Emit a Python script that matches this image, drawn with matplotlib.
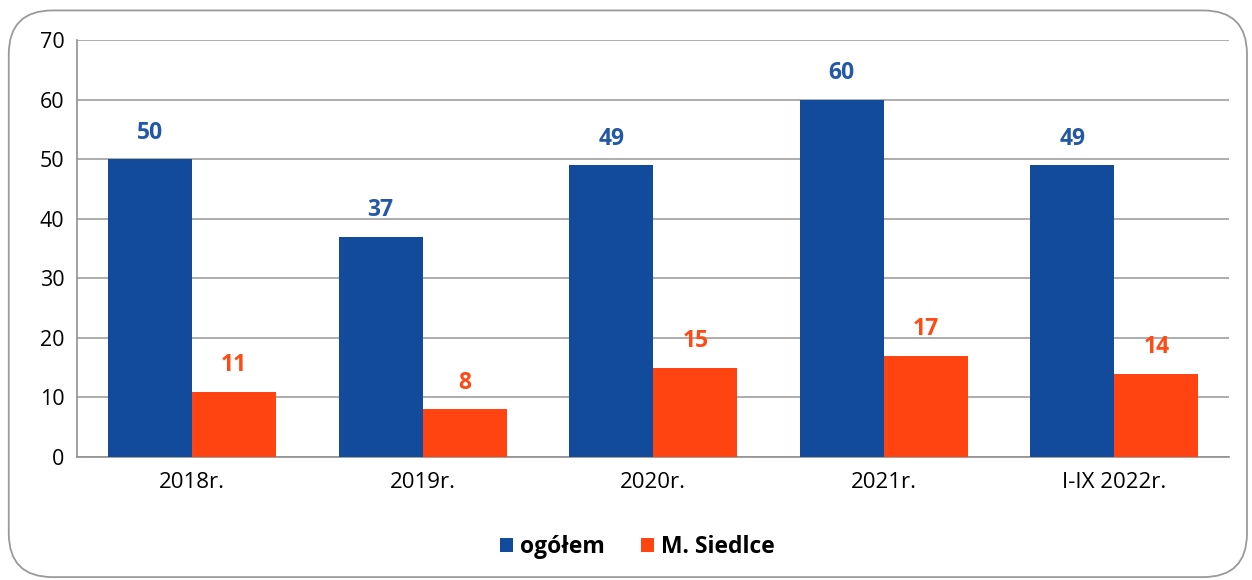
import matplotlib
matplotlib.use("Agg")
import matplotlib.pyplot as plt
import numpy as np
from matplotlib.patches import FancyBboxPatch

categories = ["2018r.", "2019r.", "2020r.", "2021r.", "I-IX 2022r."]
ogolem = [50, 37, 49, 60, 49]
siedlce = [11, 8, 15, 17, 14]
series_names = ["ogółem", "M. Siedlce"]
yticks = [0, 10, 20, 30, 40, 50, 60, 70]

plt.rcParams['font.family'] = ['Open Sans', 'DejaVu Sans']

fig = plt.figure(figsize=(12.52, 5.8), dpi=100)
frame = FancyBboxPatch((0.007, 0.005), 0.989, 0.977, boxstyle="round,pad=0,rounding_size=0.035",
                       transform=fig.transFigure, facecolor="none", edgecolor="#9a9a9a",
                       linewidth=1.3, mutation_aspect=1252/580, zorder=-1)
fig.patches.append(frame)

ax = fig.add_axes([0.0615, 0.212, 0.9205, 0.719])
x = np.arange(len(categories))
w = 0.365
blue = "#124b9c"
orange = "#ff4412"
b1 = ax.bar(x - w/2, ogolem, w, color=blue, label=series_names[0], zorder=3)
b2 = ax.bar(x + w/2, siedlce, w, color=orange, label=series_names[1], zorder=3)

for xi, v in zip(x - w/2, ogolem):
    ax.text(xi, v + 2.4, str(v), ha="center", va="bottom", color="#2358a8",
            fontsize=16.5, fontweight="bold")
for xi, v in zip(x + w/2, siedlce):
    ax.text(xi, v + 2.4, str(v), ha="center", va="bottom", color="#ff4a14",
            fontsize=16.5, fontweight="bold")

ax.set_xlim(-0.5, len(categories) - 0.5)
ax.set_ylim(0, 70)
ax.set_yticks(yticks)
ax.set_xticks(x)
ax.set_xticklabels(categories, fontsize=16)
ax.tick_params(axis="y", labelsize=15.5, length=0, pad=9)
ax.tick_params(axis="x", length=0, pad=11)
ax.grid(axis="y", color="#a0a0a0", linewidth=1.2, zorder=0)
for s in ["top", "right"]:
    ax.spines[s].set_visible(False)
ax.spines["left"].set_color("#909090")
ax.spines["bottom"].set_color("#909090")
ax.spines["left"].set_linewidth(1.2)
ax.spines["bottom"].set_linewidth(1.2)
ax.set_facecolor("none")

leg = fig.legend(handles=[b1, b2], labels=series_names, loc="center", bbox_to_anchor=(0.509, 0.057),
                 ncol=2, frameon=False, prop={"size": 16.5, "weight": "bold"},
                 handlelength=0.55, handleheight=0.55, handletextpad=0.3, columnspacing=1.6)

fig.savefig("out.png", dpi=100)
